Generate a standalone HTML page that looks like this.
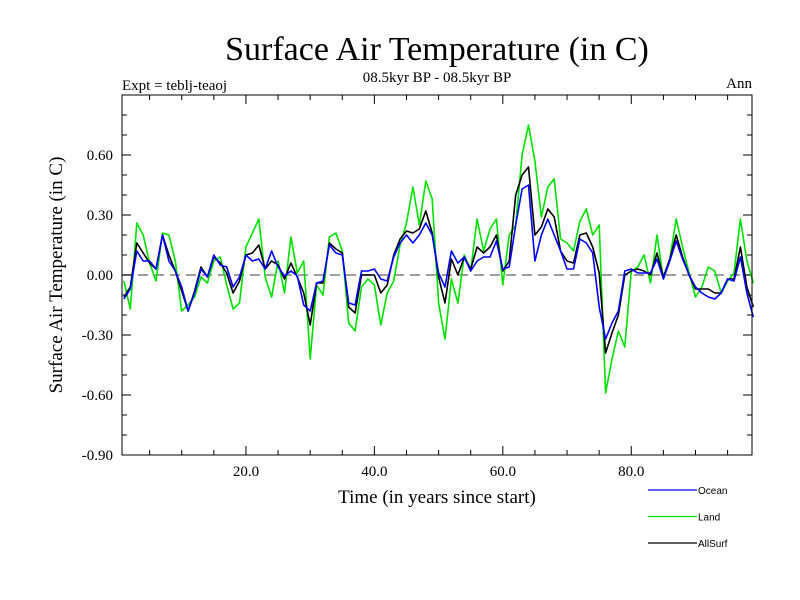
<!DOCTYPE html>
<html><head><meta charset="utf-8">
<style>
body{margin:0;background:#fff;}
svg{display:block;}
text{font-family:"Liberation Serif",serif;fill:#000;}
.leg{font-family:"Liberation Sans",sans-serif;font-size:10px;}
</style></head>
<body>
<svg id="chart" width="800" height="600">
<text x="437" y="60" text-anchor="middle" font-size="34">Surface Air Temperature (in C)</text>
<text x="437" y="82" text-anchor="middle" font-size="15">08.5kyr BP - 08.5kyr BP</text>
<text x="122" y="90" font-size="15">Expt = teblj-teaoj</text>
<text x="752" y="88" text-anchor="end" font-size="15">Ann</text>
<text transform="translate(62,275) rotate(-90)" text-anchor="middle" font-size="19">Surface Air Temperature (in C)</text>
<text x="437" y="503" text-anchor="middle" font-size="19">Time (in years since start)</text>
<g id="plot"></g>
<g id="legend"></g>
</svg>
<script>
const years = Array.from({length:99},(_,i)=>i+1);
const ocean = [-0.12,-0.07,0.12,0.07,0.07,0.03,0.20,0.07,0.02,-0.06,-0.18,-0.09,0.03,-0.01,0.10,0.05,0.04,-0.06,-0.01,0.10,0.07,0.08,0.03,0.12,0.04,
-0.005,0.02,-0.005,-0.15,-0.18,-0.04,-0.03,0.15,0.11,0.10,-0.14,-0.15,0.02,0.02,0.03,-0.02,-0.03,0.09,0.16,0.20,0.16,0.20,0.26,0.20,0.01,
-0.06,0.12,0.06,0.09,0.02,0.07,0.09,0.09,0.17,0.03,0.04,0.25,0.43,0.45,0.07,0.20,0.28,0.20,0.12,0.03,0.03,0.18,0.16,0.11,-0.16,
-0.32,-0.24,-0.18,0.02,0.03,0.01,0.01,0.01,0.08,-0.02,0.07,0.17,0.08,0.0,-0.06,-0.09,-0.11,-0.12,-0.09,-0.02,-0.03,0.09,-0.09,-0.21];
const land = [-0.03,-0.17,0.26,0.20,0.06,-0.03,0.21,0.20,0.07,-0.18,-0.15,-0.11,-0.01,-0.04,0.07,0.09,-0.05,-0.17,-0.14,0.14,0.21,0.28,-0.01,-0.11,0.07,
-0.09,0.19,0.01,0.07,-0.42,-0.05,-0.10,0.19,0.21,0.12,-0.24,-0.28,-0.06,-0.02,-0.05,-0.25,-0.09,-0.03,0.15,0.26,0.44,0.25,0.47,0.38,-0.14,
-0.32,-0.02,-0.14,0.10,0.02,0.28,0.12,0.23,0.28,-0.05,0.20,0.25,0.60,0.75,0.57,0.29,0.44,0.48,0.18,0.16,0.12,0.27,0.33,0.20,0.25,
-0.59,-0.42,-0.28,-0.36,0.02,0.04,0.10,-0.04,0.20,-0.02,0.08,0.28,0.14,0.01,-0.11,-0.06,0.04,0.02,-0.09,-0.03,0.01,0.28,0.07,-0.04];
const allsurf = [-0.11,-0.06,0.16,0.11,0.06,0.03,0.20,0.10,0.02,-0.08,-0.18,-0.08,0.04,-0.01,0.09,0.06,0.01,-0.09,-0.03,0.10,0.11,0.15,0.03,0.07,0.05,
-0.02,0.06,-0.01,-0.09,-0.25,-0.04,-0.04,0.16,0.13,0.11,-0.16,-0.19,0.0,0.0,0.0,-0.09,-0.05,0.10,0.18,0.22,0.21,0.23,0.32,0.21,-0.01,
-0.14,0.08,0.0,0.09,0.03,0.14,0.11,0.14,0.20,0.02,0.07,0.40,0.50,0.54,0.20,0.24,0.33,0.29,0.12,0.07,0.06,0.20,0.21,0.14,0.01,
-0.39,-0.29,-0.20,0.0,0.02,0.03,0.02,0.0,0.11,-0.01,0.08,0.20,0.09,0.0,-0.07,-0.07,-0.07,-0.09,-0.09,-0.02,-0.02,0.14,-0.06,-0.16];
const yTicks = [-0.9,-0.6,-0.3,0,0.3,0.6];
const yTickLabels = ["-0.90","-0.60","-0.30","0.00","0.30","0.60"];
const xTicks = [20,40,60,80];
const xTickLabels = ["20.0","40.0","60.0","80.0"];

const L=122,R=752,T=95,B=455;
const x0=0.7,x1=98.8,y0=-0.9,y1=0.9;
const sx=v=>L+(v-x0)/(x1-x0)*(R-L);
const sy=v=>B-(v-y0)/(y1-y0)*(B-T);
const NS="http://www.w3.org/2000/svg";
const plot=document.getElementById('plot');
function mk(tag,attrs,parent){const e=document.createElementNS(NS,tag);for(const k in attrs)e.setAttribute(k,attrs[k]);parent.appendChild(e);return e;}

let z=mk('line',{x1:L,x2:R,y1:sy(0),y2:sy(0),stroke:'#808080','stroke-width':1.5,'stroke-dasharray':'10,6'},plot);



for(let v=-9;v<=9;v++){
  const y=sy(v/10);
  const major=(v%3===0);
  const len=major?9:5;
  let t1=mk('line',{x1:L,x2:L+len,y1:y,y2:y,stroke:'#000','stroke-width':1},plot);
  
  
  let t2=mk('line',{x1:R,x2:R-len,y1:y,y2:y,stroke:'#000','stroke-width':1},plot);
  
  
}
for(let v=5;v<=95;v+=5){
  const x=sx(v);
  const len=(v%20===0)?9:5;
  let t1=mk('line',{x1:x,x2:x,y1:B,y2:B-len,stroke:'#000','stroke-width':1},plot);
  
  
  let t2=mk('line',{x1:x,x2:x,y1:T,y2:T+len,stroke:'#000','stroke-width':1},plot);
  
  
}
yTicks.forEach((v,i)=>{
  let t=mk('text',{x:113,y:sy(v)+5,'text-anchor':'end','font-size':15},plot);
  t.textContent=yTickLabels[i];
  
  
});
xTicks.forEach((v,i)=>{
  let t=mk('text',{x:sx(v),y:476,'text-anchor':'middle','font-size':15},plot);
  t.textContent=xTickLabels[i];
  
  
});

function series(vals,color,name){
  const pts=vals.map((v,i)=>sx(years[i]).toFixed(1)+','+sy(v).toFixed(1)).join(' ');
  let p=mk('polyline',{points:pts,fill:'none',stroke:color,'stroke-width':1.6,'stroke-linejoin':'round'},plot);
  
  
}
series(land,'#00e000','land-line');
series(allsurf,'#000000','allsurf-line');
series(ocean,'#0000ff','ocean-line');

let frame=mk('rect',{x:L,y:T,width:R-L,height:B-T,fill:'none',stroke:'#000','stroke-width':1},plot);



const leg=document.getElementById('legend');
const legNames=['Ocean','Land','AllSurf'];
const legColors=['#0000ff','#00e000','#000000'];
legNames.forEach((n,i)=>{
  const y=490+i*26.5;
  let l=mk('line',{x1:648,x2:697,y1:y,y2:y,stroke:legColors[i],'stroke-width':1.3},leg);
  
  
  let t=mk('text',{x:698,y:y+4,'class':'leg'},leg);
  t.textContent=n;
  
  
});
</script>
</body></html>
